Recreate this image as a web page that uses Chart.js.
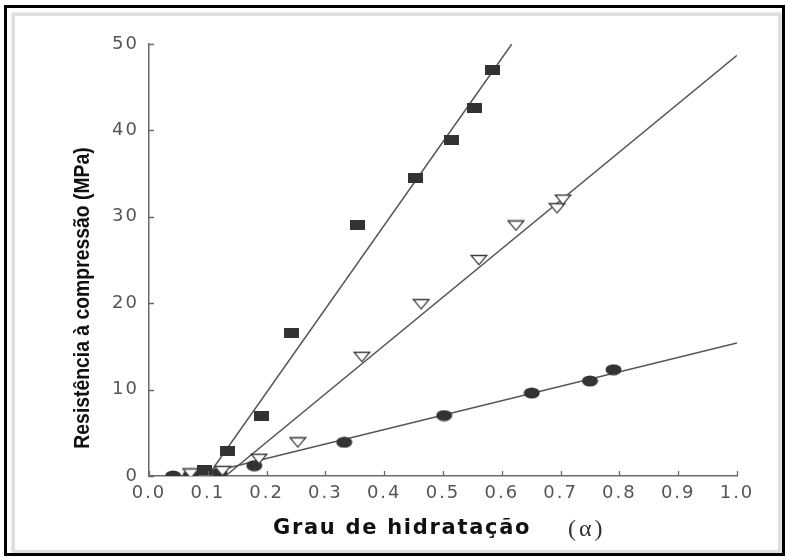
<!DOCTYPE html>
<html>
<head>
<meta charset="utf-8">
<script src="https://cdn.jsdelivr.net/npm/chart.js@4"></script>
<style>
  html, body { margin: 0; padding: 0; background: #fff; }
  #wrap { position: relative; width: 787px; height: 558px; overflow: hidden; background: #fff; }
  #outer { position: absolute; left: 4px; top: 5px; width: 781px; height: 551px; box-sizing: border-box; border: 3px solid #000; }
  #inner { position: absolute; left: 12px; top: 13px; width: 769px; height: 540px; box-sizing: border-box;
           border: 3px solid #dedede; box-shadow: 0 0 2px rgba(0,0,0,0.25); }
  #chart { position: absolute; left: 0; top: 0; }
</style>
</head>
<body>
<div id="wrap">
  <div id="outer"></div>
  <div id="inner"></div>
  <canvas id="chart" width="787" height="558"></canvas>
</div>
<script>
// Degree of hydration (alpha) vs. compressive strength (MPa), three mixes
const squareAlpha    = [0.094, 0.134, 0.192, 0.243, 0.354, 0.454, 0.514, 0.553, 0.585];
const squareStrength = [0.7,   2.9,   7.0,   16.6,  29.1,  34.5,  38.9,  42.6,  47.0];

const triangleAlpha    = [0.071, 0.125, 0.187, 0.253, 0.362, 0.463, 0.561, 0.624, 0.694, 0.704];
const triangleStrength = [0.3,   0.6,   2.0,   3.9,   13.8,  19.9,  25.0,  29.0,  31.0,  32.0];

const circleAlpha    = [0.041, 0.071, 0.12, 0.179, 0.332, 0.502, 0.651, 0.75, 0.79];
const circleStrength = [0.0,   0.1,   0.4,  1.2,   3.9,   7.0,   9.6,   11.0, 12.3];

// Fitted straight lines (start / end of each)
const squareFitAlpha      = [0.10, 0.617];
const squareFitStrength   = [0.0, 50.0];
const triangleFitAlpha    = [0.13, 1.0];
const triangleFitStrength = [0.0, 48.7];
const circleFitAlpha      = [0.12, 1.0];
const circleFitStrength   = [0.7, 15.4];

const xTickValues = [0, 0.1, 0.2, 0.3, 0.4, 0.5, 0.6, 0.7, 0.8, 0.9, 1.0];
const yTickValues = [0, 10, 20, 30, 40, 50];

const xTitle = 'Grau de hidratação';
const xSymbol = '(α)';
const yTitle = 'Resistência à compressão (MPa)';

function pairs(xs, ys) { return xs.map((x, i) => ({ x: x, y: ys[i] })); }

function markerCanvas(w, h, draw) {
  const c = document.createElement('canvas');
  c.width = w; c.height = h;
  draw(c.getContext('2d'), w, h);
  return c;
}
const squareMark = markerCanvas(15, 10, (g, w, h) => {
  g.fillStyle = '#333'; g.fillRect(0, 0, w, h);
});
const circleMark = markerCanvas(17, 12, (g, w, h) => {
  g.fillStyle = '#333'; g.beginPath();
  g.ellipse(w / 2, h / 2, w / 2 - 0.5, h / 2 - 0.5, 0, 0, Math.PI * 2); g.fill();
});
const triangleMark = markerCanvas(18, 12, (g, w, h) => {
  g.fillStyle = '#fff'; g.strokeStyle = '#3c3c3c'; g.lineWidth = 1.3;
  g.beginPath(); g.moveTo(1.2, 1.5); g.lineTo(w - 1.2, 1.5); g.lineTo(w / 2, h - 1.2); g.closePath();
  g.fill(); g.stroke();
});

const axisColor = '#6a6a6a';
const tickFont = { family: "'DejaVu Sans', sans-serif", size: 18 };

// Inward tick marks, axis titles and label spacing
const decorations = {
  id: 'decorations',
  beforeDraw(chart) { chart.ctx.letterSpacing = '2px'; },
  afterDraw(chart) {
    const ctx = chart.ctx;
    const xs = chart.scales.x, ys = chart.scales.y;
    const area = chart.chartArea;
    ctx.save();
    ctx.letterSpacing = '0px';
    ctx.strokeStyle = axisColor; ctx.lineWidth = 1.3;
    ctx.beginPath();
    xTickValues.forEach(v => {
      const px = Math.round(xs.getPixelForValue(v)) + 0.5;
      ctx.moveTo(px, area.bottom); ctx.lineTo(px, area.bottom - 5);
    });
    yTickValues.forEach(v => {
      const py = Math.round(ys.getPixelForValue(v)) + 0.5;
      ctx.moveTo(area.left, py); ctx.lineTo(area.left + 5, py);
    });
    ctx.stroke();

    // x-axis title
    ctx.fillStyle = '#111';
    ctx.textBaseline = 'middle';
    ctx.textAlign = 'left';
    ctx.font = "bold 21px 'DejaVu Sans', sans-serif";
    ctx.letterSpacing = '1.7px';
    ctx.fillText(xTitle, 273, 529);
    ctx.fillStyle = '#333';
    ctx.font = "24px 'Liberation Serif', serif";
    ctx.letterSpacing = '3px';
    ctx.fillText(xSymbol, 568, 530);

    // y-axis title (condensed along the text direction)
    ctx.translate(83, 298);
    ctx.rotate(-Math.PI / 2);
    ctx.scale(0.88, 1);
    ctx.textAlign = 'center';
    ctx.fillStyle = '#111';
    ctx.letterSpacing = '0px';
    ctx.font = "bold 22px 'Liberation Sans', Arial, sans-serif";
    ctx.fillText(yTitle, 0, 0);
    ctx.restore();
  }
};

new Chart(document.getElementById('chart'), {
  type: 'scatter',
  data: {
    datasets: [
      { data: pairs(squareAlpha, squareStrength), pointStyle: squareMark, pointRadius: 6, order: 1 },
      { data: pairs(triangleAlpha, triangleStrength), pointStyle: triangleMark, pointRadius: 6, order: 1 },
      { data: pairs(circleAlpha, circleStrength), pointStyle: circleMark, pointRadius: 6, order: 1 },
      { data: pairs(squareFitAlpha, squareFitStrength), showLine: true, pointRadius: 0,
        borderColor: '#555', borderWidth: 1.5, order: 2 },
      { data: pairs(triangleFitAlpha, triangleFitStrength), showLine: true, pointRadius: 0,
        borderColor: '#555', borderWidth: 1.5, order: 2 },
      { data: pairs(circleFitAlpha, circleFitStrength), showLine: true, pointRadius: 0,
        borderColor: '#555', borderWidth: 1.5, order: 2 }
    ]
  },
  options: {
    responsive: false,
    animation: false,
    events: [],
    layout: { padding: { left: 0, top: 44, right: 50, bottom: 0 } },
    plugins: { legend: { display: false }, tooltip: { enabled: false } },
    scales: {
      x: {
        type: 'linear', min: 0, max: 1,
        afterFit(scale) { scale.height = 82; },
        afterBuildTicks(scale) { scale.ticks = xTickValues.map(v => ({ value: v })); },
        grid: { display: false, drawTicks: false, tickLength: 0 },
        border: { display: true, color: axisColor, width: 1.5 },
        ticks: { color: '#555', font: tickFont, padding: 7,
                 callback: v => v.toFixed(1) }
      },
      y: {
        type: 'linear', min: 0, max: 50,
        afterFit(scale) { scale.width = 149; },
        afterBuildTicks(scale) { scale.ticks = yTickValues.map(v => ({ value: v })); },
        grid: { display: false, drawTicks: false, tickLength: 0 },
        border: { display: true, color: axisColor, width: 1.5 },
        ticks: { color: '#555', font: tickFont, padding: 10,
                 callback: v => String(v) }
      }
    }
  },
  plugins: [decorations]
});
</script>
</body>
</html>
